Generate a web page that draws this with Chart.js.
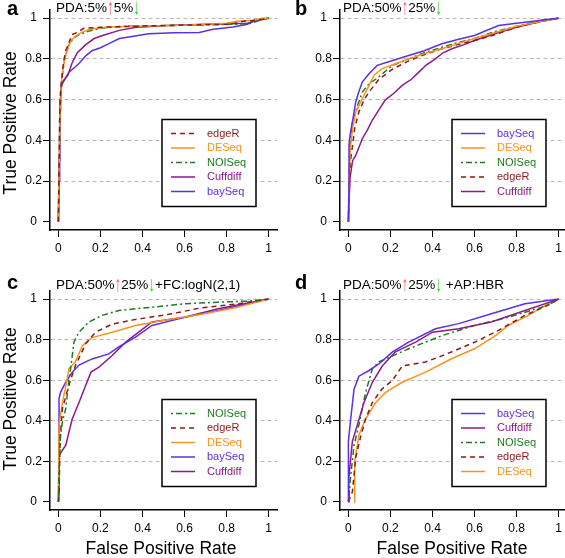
<!DOCTYPE html>
<html>
<head>
<meta charset="utf-8">
<script src="https://cdn.jsdelivr.net/npm/chart.js@4.4.0/dist/chart.umd.min.js"></script>
<style>
html, body { margin: 0; padding: 0; background: #fff; overflow: hidden; width: 565px; height: 558px; }
body { position: relative; font-family: "Liberation Sans", Arial, sans-serif; color: #000; }
canvas { position: absolute; }
.lbl { position: absolute; font-size: 20px; font-weight: bold; line-height: 20px; }
.ttl { position: absolute; font-size: 13.5px; line-height: 16px; white-space: nowrap; }
.up, .dn { display: inline-block; transform: scaleY(1.6); transform-origin: 50% 55%; }
.up { color: #e85858; }
.dn { color: #3cd03c; }
.ytl { position: absolute; font-size: 17.5px; line-height: 20px; white-space: nowrap; transform: translate(-50%, -50%) rotate(-90deg); }
.xtl { position: absolute; font-size: 17.5px; line-height: 20px; white-space: nowrap; transform: translate(-50%, -50%); }
</style>
</head>
<body>
<canvas id="pa" width="283" height="270" style="left:0;top:0"></canvas>
<canvas id="pb" width="290" height="270" style="left:283px;top:0"></canvas>
<canvas id="pc" width="283" height="288" style="left:0;top:270px"></canvas>
<canvas id="pd" width="290" height="288" style="left:283px;top:270px"></canvas>

<div class="lbl" style="left:7px;top:-2px">a</div>
<div class="lbl" style="left:295px;top:-2px">b</div>
<div class="lbl" style="left:7px;top:272px">c</div>
<div class="lbl" style="left:295px;top:272px">d</div>

<div class="ttl" style="left:56px;top:0">PDA:5%<span class="up">↑</span>5%<span class="dn">↓</span></div>
<div class="ttl" style="left:343px;top:0">PDA:50%<span class="up">↑</span>25%<span class="dn">↓</span></div>
<div class="ttl" style="left:56px;top:277px">PDA:50%<span class="up">↑</span>25%<span class="dn">↓</span>+FC:logN(2,1)</div>
<div class="ttl" style="left:343px;top:277px">PDA:50%<span class="up">↑</span>25%<span class="dn">↓</span> +AP:HBR</div>

<div class="ytl" style="left:10px;top:123px">True Positive Rate</div>
<div class="ytl" style="left:10px;top:399px">True Positive Rate</div>
<div class="xtl" style="left:161px;top:548px">False Positive Rate</div>
<div class="xtl" style="left:452px;top:548px">False Positive Rate</div>

<script>
// axis ticks
const tickValues = [0, 0.2, 0.4, 0.6, 0.8, 1];
const tickLabels = ["0", "0.2", "0.4", "0.6", "0.8", "1"];

// series styles
const colors = { edgeR: "#8b1a1a", DESeq: "#f7941d", NOISeq: "#1e7b1e", Cuffdiff: "#8b1a8b", baySeq: "#5b2fe8" };
const dashes = { edgeR: [5, 4], DESeq: [], NOISeq: [2, 3, 6, 3], Cuffdiff: [], baySeq: [] };

// panel a: PDA 5% up 5% down  ([FPR, TPR])
const aEdgeR = [[0,0],[0.003,0.25],[0.006,0.5],[0.01,0.64],[0.016,0.7],[0.025,0.79],[0.035,0.84],[0.05,0.88],[0.065,0.92],[0.09,0.93],[0.12,0.95],[0.2,0.955],[0.35,0.96],[0.55,0.965],[0.82,0.97],[0.88,0.985],[0.95,0.99],[1,1]];
const aDESeq = [[0,0],[0.004,0.3],[0.008,0.55],[0.012,0.66],[0.018,0.72],[0.03,0.8],[0.045,0.85],[0.06,0.89],[0.08,0.91],[0.11,0.93],[0.15,0.945],[0.22,0.955],[0.35,0.96],[0.6,0.965],[0.8,0.975],[0.85,0.985],[0.93,0.99],[0.97,1],[1,1]];
const aNOISeq = [[0,0],[0.004,0.3],[0.008,0.55],[0.012,0.66],[0.02,0.73],[0.03,0.8],[0.045,0.86],[0.07,0.9],[0.1,0.92],[0.14,0.935],[0.2,0.95],[0.3,0.96],[0.6,0.965],[0.85,0.97],[0.92,0.975],[0.96,0.99],[1,1]];
const aCuffdiff = [[0,0],[0.003,0.2],[0.006,0.45],[0.01,0.6],[0.015,0.68],[0.03,0.7],[0.045,0.72],[0.065,0.78],[0.09,0.83],[0.13,0.87],[0.17,0.9],[0.21,0.915],[0.29,0.94],[0.37,0.955],[0.52,0.964],[0.7,0.97],[0.9,0.975],[0.95,0.99],[1,1]];
const aBaySeq = [[0,0],[0.003,0.3],[0.006,0.5],[0.01,0.6],[0.015,0.67],[0.03,0.7],[0.05,0.735],[0.08,0.76],[0.1,0.78],[0.13,0.815],[0.16,0.84],[0.2,0.855],[0.24,0.875],[0.29,0.9],[0.35,0.91],[0.43,0.923],[0.55,0.928],[0.67,0.93],[0.73,0.944],[0.83,0.957],[0.9,0.97],[0.93,0.99],[1,1]];

// panel b: PDA 50% up 25% down
const bBaySeq = [[0,0],[0.003,0.2],[0.003,0.38],[0.01,0.44],[0.019,0.49],[0.035,0.59],[0.05,0.64],[0.066,0.686],[0.098,0.727],[0.137,0.768],[0.21,0.792],[0.287,0.817],[0.36,0.84],[0.445,0.874],[0.52,0.895],[0.6,0.915],[0.714,0.964],[0.8,0.975],[0.919,0.99],[1,1]];
const bDESeq = [[0,0],[0.003,0.2],[0.008,0.35],[0.019,0.45],[0.035,0.539],[0.066,0.605],[0.098,0.67],[0.122,0.72],[0.161,0.752],[0.224,0.776],[0.287,0.8],[0.36,0.825],[0.445,0.85],[0.52,0.875],[0.6,0.9],[0.7,0.93],[0.8,0.96],[0.92,0.985],[1,1]];
const bNOISeq = [[0,0],[0.003,0.2],[0.008,0.38],[0.019,0.49],[0.04,0.56],[0.066,0.637],[0.1,0.68],[0.13,0.7],[0.21,0.768],[0.287,0.8],[0.36,0.83],[0.445,0.857],[0.52,0.88],[0.6,0.9],[0.7,0.935],[0.8,0.96],[0.92,0.99],[1,1]];
const bEdgeR = [[0,0],[0.005,0.2],[0.01,0.3],[0.019,0.37],[0.03,0.46],[0.05,0.54],[0.075,0.6],[0.098,0.637],[0.145,0.7],[0.21,0.75],[0.287,0.79],[0.36,0.82],[0.445,0.85],[0.52,0.87],[0.6,0.89],[0.7,0.92],[0.8,0.955],[0.92,0.985],[1,1]];
const bCuffdiff = [[0,0],[0.003,0.1],[0.008,0.22],[0.02,0.3],[0.035,0.326],[0.066,0.408],[0.09,0.45],[0.114,0.5],[0.145,0.55],[0.177,0.6],[0.215,0.63],[0.256,0.67],[0.3,0.7],[0.335,0.735],[0.37,0.77],[0.414,0.8],[0.45,0.83],[0.493,0.85],[0.55,0.87],[0.6,0.89],[0.7,0.925],[0.8,0.955],[0.92,0.985],[1,1]];

// panel c: PDA 50% up 25% down + FC logN(2,1)
const cNOISeq = [[0,0],[0.003,0.15],[0.01,0.33],[0.02,0.4],[0.035,0.46],[0.05,0.6],[0.058,0.657],[0.074,0.788],[0.098,0.837],[0.145,0.887],[0.209,0.92],[0.287,0.944],[0.445,0.96],[0.6,0.977],[0.76,0.985],[0.9,0.99],[1,1]];
const cEdgeR = [[0,0],[0.003,0.05],[0.008,0.3],[0.019,0.46],[0.05,0.575],[0.08,0.67],[0.13,0.78],[0.177,0.837],[0.256,0.877],[0.367,0.9],[0.525,0.925],[0.68,0.957],[0.84,0.975],[1,1]];
const cDESeq = [[0,0],[0.003,0.38],[0.019,0.49],[0.035,0.57],[0.05,0.657],[0.08,0.69],[0.114,0.77],[0.16,0.81],[0.256,0.837],[0.367,0.87],[0.525,0.9],[0.68,0.925],[0.84,0.957],[1,1]];
const cBaySeq = [[0,0],[0.003,0.2],[0.003,0.51],[0.01,0.54],[0.035,0.59],[0.066,0.64],[0.098,0.675],[0.16,0.705],[0.24,0.73],[0.287,0.764],[0.367,0.813],[0.445,0.87],[0.6,0.91],[0.76,0.944],[1,1]];
const cCuffdiff = [[0,0],[0.003,0.05],[0.003,0.23],[0.035,0.28],[0.066,0.41],[0.098,0.49],[0.13,0.575],[0.155,0.64],[0.193,0.665],[0.256,0.722],[0.32,0.788],[0.382,0.837],[0.445,0.887],[0.6,0.911],[0.76,0.952],[1,1]];

// panel d: PDA 50% up 25% down + AP HBR
const dBaySeq = [[0,0],[0,0.3],[0.011,0.41],[0.027,0.557],[0.05,0.62],[0.098,0.648],[0.145,0.68],[0.21,0.74],[0.287,0.788],[0.414,0.854],[0.525,0.879],[0.68,0.928],[0.84,0.977],[1,1]];
const dCuffdiff = [[0,0],[0.002,0.12],[0.019,0.3],[0.043,0.38],[0.074,0.49],[0.114,0.59],[0.161,0.67],[0.224,0.74],[0.32,0.788],[0.4,0.837],[0.525,0.854],[0.68,0.887],[0.84,0.944],[1,1]];
const dNOISeq = [[0,0],[0.01,0.12],[0.027,0.28],[0.05,0.38],[0.082,0.54],[0.114,0.657],[0.145,0.69],[0.21,0.72],[0.287,0.755],[0.445,0.82],[0.6,0.87],[0.76,0.91],[0.95,0.97],[1,1]];
const dEdgeR = [[0,0],[0.019,0.05],[0.035,0.22],[0.058,0.32],[0.082,0.41],[0.114,0.49],[0.16,0.557],[0.21,0.6],[0.256,0.67],[0.367,0.69],[0.445,0.72],[0.6,0.787],[0.714,0.846],[0.84,0.92],[0.95,0.97],[1,1]];
const dDESeq = [[0.027,0],[0.03,0.2],[0.05,0.33],[0.082,0.41],[0.13,0.49],[0.177,0.54],[0.256,0.59],[0.367,0.64],[0.493,0.707],[0.6,0.755],[0.7,0.82],[0.76,0.87],[0.856,0.92],[0.95,0.977],[1,1]];

// legend order per panel
const orderA = [["edgeR", aEdgeR], ["DESeq", aDESeq], ["NOISeq", aNOISeq], ["Cuffdiff", aCuffdiff], ["baySeq", aBaySeq]];
const orderB = [["baySeq", bBaySeq], ["DESeq", bDESeq], ["NOISeq", bNOISeq], ["edgeR", bEdgeR], ["Cuffdiff", bCuffdiff]];
const orderC = [["NOISeq", cNOISeq], ["edgeR", cEdgeR], ["DESeq", cDESeq], ["baySeq", cBaySeq], ["Cuffdiff", cCuffdiff]];
const orderD = [["baySeq", dBaySeq], ["Cuffdiff", dCuffdiff], ["NOISeq", dNOISeq], ["edgeR", dEdgeR], ["DESeq", dDESeq]];

const FONT = '"Liberation Sans", Arial, sans-serif';

// boxed legend inside bottom-right of plot
const boxLegend = {
    id: "boxLegend",
    afterDatasetsDraw(chart) {
        const { ctx, chartArea } = chart;
        const w = 94, h = 87;
        const x0 = chartArea.right - 21 - w, y0 = chartArea.bottom - 23.5 - h;
        ctx.save();
        ctx.fillStyle = "#fff";
        ctx.fillRect(x0, y0, w, h);
        ctx.strokeStyle = "#000";
        ctx.lineWidth = 1.5;
        ctx.strokeRect(x0, y0, w, h);
        ctx.font = "11px " + FONT;
        ctx.textBaseline = "middle";
        chart.data.datasets.forEach((ds, i) => {
            const y = y0 + 14 + i * 14.5;
            ctx.strokeStyle = ds.borderColor;
            ctx.lineWidth = 1.5;
            ctx.setLineDash(ds.borderDash);
            ctx.beginPath();
            ctx.moveTo(x0 + 9, y);
            ctx.lineTo(x0 + 33, y);
            ctx.stroke();
            ctx.setLineDash([]);
            ctx.fillStyle = ds.borderColor;
            ctx.fillText(ds.label, x0 + 45, y);
        });
        ctx.restore();
    }
};

function drawPanel(id, order, yAxisW, padTop, xAxisH) {
    const ctx = document.getElementById(id).getContext("2d");
    new Chart(ctx, {
        type: "line",
        data: {
            datasets: order.map(([name, pts]) => ({
                label: name,
                data: pts.map(([x, y]) => ({ x, y })),
                borderColor: colors[name],
                borderDash: dashes[name],
                borderWidth: 1.5,
                pointRadius: 0,
                fill: false,
                tension: 0
            }))
        },
        options: {
            responsive: false,
            animation: false,
            events: [],
            layout: { padding: { top: padTop, right: 6, left: 0, bottom: 0 } },
            plugins: { legend: { display: false }, tooltip: { enabled: false } },
            scales: {
                x: {
                    type: "linear", min: -0.04, max: 1.04,
                    afterBuildTicks: s => { s.ticks = tickValues.map(v => ({ value: v })); },
                    afterFit: s => { s.height = xAxisH; },
                    ticks: { callback: (v, i) => tickLabels[i], font: { family: FONT, size: 12 }, color: "#000", padding: 4, maxRotation: 0, autoSkip: false },
                    grid: { drawOnChartArea: false, drawTicks: true, tickLength: 7, tickColor: "#000", tickWidth: 1 },
                    border: { color: "#000", width: 1.5 }
                },
                y: {
                    type: "linear", min: -0.04, max: 1.04,
                    afterBuildTicks: s => { s.ticks = tickValues.map(v => ({ value: v })); },
                    afterFit: s => { s.width = yAxisW; },
                    ticks: { callback: (v, i) => tickLabels[i], font: { family: FONT, size: 12 }, color: "#000", padding: 1, crossAlign: "center", autoSkip: false },
                    grid: {
                        color: c => (c.tick && c.tick.value === 0 ? "rgba(0,0,0,0)" : "#b8b8b8"),
                        lineWidth: 1, drawTicks: true, tickLength: 7, tickColor: "#000", tickWidth: 1, tickBorderDash: []
                    },
                    border: { color: "#000", width: 1.5, dash: [4, 3] }
                }
            }
        },
        plugins: [boxLegend]
    });
}

drawPanel("pa", orderA, 50, 10, 40);
drawPanel("pb", orderB, 57, 10, 40);
drawPanel("pc", orderC, 50, 21, 48);
drawPanel("pd", orderD, 57, 21, 48);
</script>
</body>
</html>
